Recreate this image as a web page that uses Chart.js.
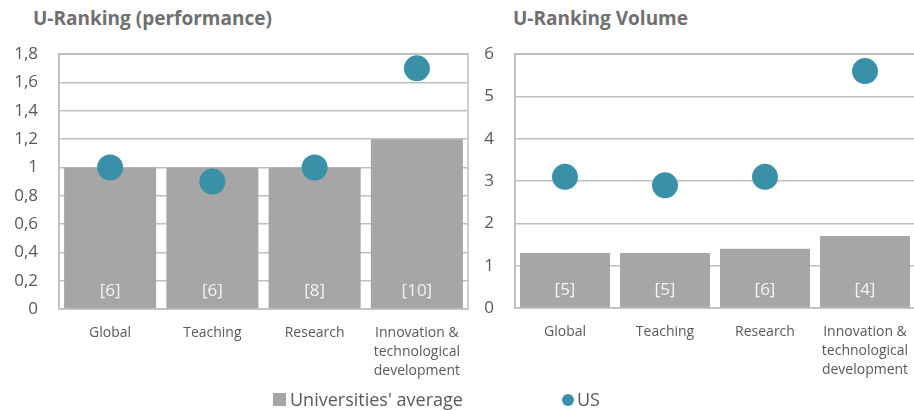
<!DOCTYPE html>
<html>
<head>
<meta charset="utf-8">
<script src="https://cdn.jsdelivr.net/npm/chart.js@4.4.1/dist/chart.umd.min.js"></script>
<style>
  body { margin: 0; background: #fff; font-family: "Open Sans", sans-serif; }
  #page { position: relative; width: 914px; height: 410px; overflow: hidden; }
  .title { position: absolute; top: 9px; font-weight: bold; font-size: 19px; color: #6f6f6f; line-height: 1; white-space: nowrap; }
  .box { position: absolute; top: 23px; height: 367px; }
  .legend { position: absolute; top: 390px; font-size: 18px; color: #595959; line-height: 1; white-space: nowrap; }
  .sq { display: inline-block; width: 13px; height: 13px; background: #a6a6a6; margin-right: 4px; }
  .dot { display: inline-block; width: 12px; height: 12px; border-radius: 50%; background: #3a90a7; margin-right: 3px; }
</style>
</head>
<body>
<div id="page">
  <div class="title" style="left:33px">U-Ranking (performance)</div>
  <div class="title" style="left:513px">U-Ranking Volume</div>
  <div class="box" style="left:0;width:481px"><canvas id="perfChart"></canvas></div>
  <div class="box" style="left:470px;width:458px"><canvas id="volChart"></canvas></div>
  <div class="legend" style="left:273px"><span class="sq"></span>Universities' average</div>
  <div class="legend" style="left:562px"><span class="dot"></span>US</div>
</div>
<script>
const categories = ["Global", "Teaching", "Research", ["Innovation &", "technological", "development"]];

const perfAverage = [1.0, 1.0, 1.0, 1.2];
const perfUS = [1.0, 0.9, 1.0, 1.7];
const perfCounts = ["[6]", "[6]", "[8]", "[10]"];
const perfTicks = ["0", "0,2", "0,4", "0,6", "0,8", "1", "1,2", "1,4", "1,6", "1,8"];

const volAverage = [1.3, 1.3, 1.4, 1.7];
const volUS = [3.1, 2.9, 3.1, 5.6];
const volCounts = ["[5]", "[5]", "[6]", "[4]"];
const volTicks = ["0", "1", "2", "3", "4", "5", "6"];

const GRID = "#bfbfbf";
const TEXT = "#595959";
const FONT = "Open Sans";

// frame around the plot area (right edge has no axis of its own)
const frame = {
  id: "frame",
  beforeDatasetsDraw(chart) {
    const a = chart.chartArea;
    const ctx = chart.ctx;
    ctx.save();
    ctx.strokeStyle = GRID;
    ctx.lineWidth = 1.5;
    ctx.strokeRect(a.left, a.top, a.right - a.left, a.bottom - a.top);
    ctx.restore();
  },
};

// "[n]" counts written at the foot of each bar
const counts = {
  id: "counts",
  afterDatasetsDraw(chart, args, opts) {
    const ctx = chart.ctx;
    const bars = chart.getDatasetMeta(0).data;
    ctx.save();
    ctx.fillStyle = "#f4f4f4";
    ctx.font = "17px " + FONT;
    ctx.textAlign = "center";
    ctx.textBaseline = "middle";
    bars.forEach((bar, i) => {
      ctx.fillText(opts.labels[i], bar.x, chart.chartArea.bottom - 18);
    });
    ctx.restore();
  },
};

const makeChart = (id, avg, us, labels, ticks, max, step, yWidth, padTop, xHeight) => {
  return new Chart(document.getElementById(id), {
    type: "bar",
    data: {
      labels: categories,
      datasets: [
        {
          label: "Universities' average",
          data: avg,
          backgroundColor: "#a6a6a6",
          barPercentage: 0.9,
          categoryPercentage: 1,
          order: 2,
        },
        {
          type: "line",
          label: "US",
          data: us,
          showLine: false,
          pointRadius: 13,
          pointHoverRadius: 13,
          pointBackgroundColor: "#3a90a7",
          pointBorderWidth: 0,
          order: 1,
        },
      ],
    },
    options: {
      responsive: true,
      maintainAspectRatio: false,
      animation: false,
      layout: { padding: { top: padTop, right: 4, left: 0, bottom: 0 } },
      plugins: {
        legend: { display: false },
        tooltip: { enabled: false },
        counts: { labels: labels },
      },
      scales: {
        x: {
          grid: { display: false },
          border: { display: false },
          ticks: {
            color: TEXT,
            font: { family: FONT, size: 14, lineHeight: 1.35 },
            padding: 7,
            maxRotation: 0,
            autoSkip: false,
          },
          afterFit: (s) => { s.height = xHeight; },
        },
        y: {
          min: 0,
          max: max,
          ticks: {
            stepSize: step,
            color: TEXT,
            font: { family: FONT, size: 17 },
            padding: 21,
            callback: (v, i) => ticks[i],
          },
          grid: { color: GRID, lineWidth: 1.5, drawTicks: false },
          border: { display: true, color: GRID, width: 1.5 },
          afterFit: (s) => { s.width = yWidth; },
        },
      },
    },
    plugins: [frame, counts],
  });
};

makeChart("perfChart", perfAverage, perfUS, perfCounts, perfTicks, 1.8, 0.2, 59, 14, 81);
makeChart("volChart", volAverage, volUS, volCounts, volTicks, 6, 1, 45, 13, 82);
</script>
</body>
</html>
